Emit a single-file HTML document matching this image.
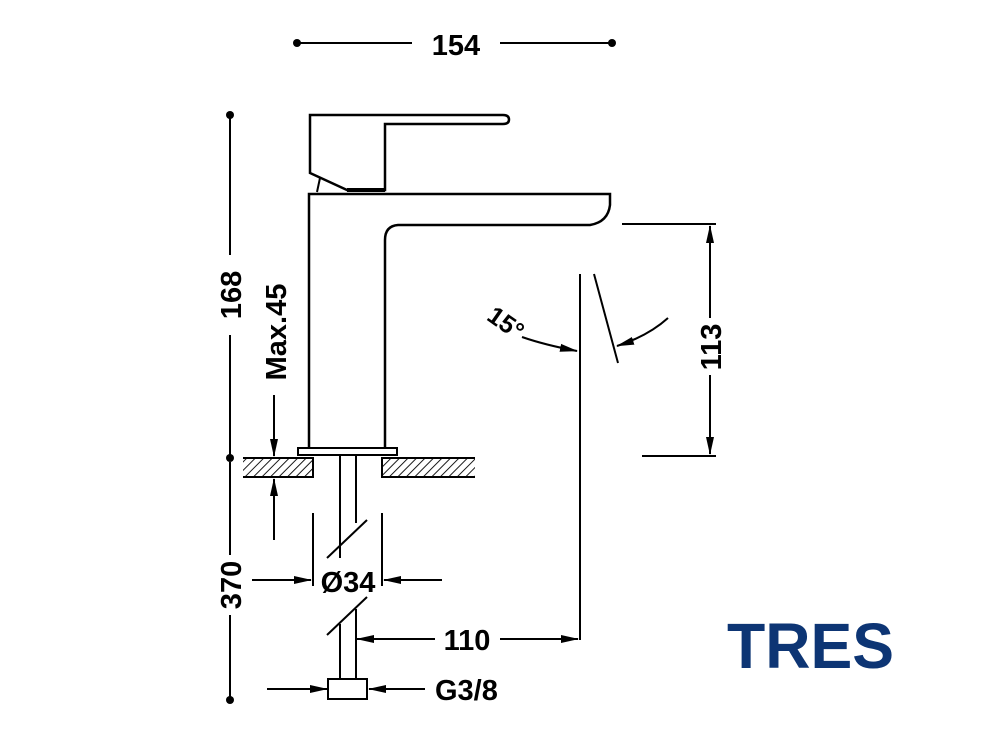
<!DOCTYPE html>
<html><head><style>
body{margin:0;background:#fff}
svg{display:block}
text{font-family:"Liberation Sans",Arial,sans-serif;font-weight:bold;fill:#000}
</style></head><body>
<svg width="990" height="743" viewBox="0 0 990 743" xmlns="http://www.w3.org/2000/svg">
<defs>
<pattern id="h" width="6" height="6" patternUnits="userSpaceOnUse" patternTransform="rotate(45)">
<line x1="0" y1="0" x2="0" y2="6" stroke="#000" stroke-width="1.8"/>
</pattern>
<marker id="a" markerWidth="18" markerHeight="10" refX="17" refY="5" orient="auto" markerUnits="userSpaceOnUse">
<path d="M0,1 L18,5 L0,9 Z" fill="#000"/>
</marker>
</defs>
<g stroke="#000" stroke-width="2" fill="none">
<line x1="300" y1="43" x2="412" y2="43"/>
<line x1="500" y1="43" x2="610" y2="43"/>
<line x1="230" y1="118" x2="230" y2="255"/>
<line x1="230" y1="335" x2="230" y2="456"/>
<line x1="230" y1="462" x2="230" y2="555"/>
<line x1="230" y1="615" x2="230" y2="697"/>
<path d="M310,115 L503,115 Q509,115 509,119.5 Q509,124 503,124 L385,124 L385,190 L347,190 L310,173 Z" stroke-width="2.5"/>
<line x1="347" y1="190" x2="385" y2="190" stroke-width="4"/>
<line x1="317" y1="192" x2="320" y2="178"/>
<path d="M309,448 L309,194 L610,194 L610,205 Q608,222 590,225 L398,225 Q385,226 385,240 L385,448" stroke-width="2.5"/>
<rect x="298" y="448" width="99" height="7" stroke-width="2"/>
<rect x="243" y="458" width="70" height="19" fill="url(#h)" stroke="none"/>
<rect x="382" y="458" width="93" height="19" fill="url(#h)" stroke="none"/>
<path d="M243,458 L313,458 L313,477 L243,477" />
<path d="M475,458 L382,458 L382,477 L475,477"/>
<line x1="340" y1="456" x2="340" y2="558"/>
<line x1="356" y1="456" x2="356" y2="523"/>
<line x1="327" y1="558" x2="367" y2="520"/>
<line x1="327" y1="635" x2="367" y2="597"/>
<line x1="340" y1="624" x2="340" y2="679"/>
<line x1="356" y1="609" x2="356" y2="679"/>
<rect x="328" y="679" width="39" height="20"/>
<line x1="313" y1="513" x2="313" y2="586"/>
<line x1="382" y1="513" x2="382" y2="586"/>
<line x1="252" y1="580" x2="311" y2="580" marker-end="url(#a)"/>
<line x1="442" y1="580" x2="384" y2="580" marker-end="url(#a)"/>
<line x1="435" y1="639" x2="357" y2="639" marker-end="url(#a)"/>
<line x1="500" y1="639" x2="578" y2="639" marker-end="url(#a)"/>
<line x1="267" y1="689" x2="327" y2="689" marker-end="url(#a)"/>
<line x1="425" y1="689" x2="369" y2="689" marker-end="url(#a)"/>
<line x1="274" y1="395" x2="274" y2="456" marker-end="url(#a)"/>
<line x1="274" y1="540" x2="274" y2="479" marker-end="url(#a)"/>
<line x1="580" y1="274" x2="580" y2="640"/>
<line x1="594" y1="274" x2="618" y2="363"/>
<path d="M522,337 Q545,345 577,351" marker-end="url(#a)"/>
<path d="M668,318 Q648,336 617,346" marker-end="url(#a)"/>
<line x1="622" y1="224" x2="716" y2="224"/>
<line x1="642" y1="456" x2="716" y2="456"/>
<line x1="710" y1="318" x2="710" y2="226" marker-end="url(#a)"/>
<line x1="710" y1="375" x2="710" y2="454" marker-end="url(#a)"/>
</g>
<g fill="#000">
<circle cx="297" cy="43" r="4"/><circle cx="612" cy="43" r="4"/>
<circle cx="230" cy="115" r="4"/><circle cx="230" cy="458" r="4"/><circle cx="230" cy="700" r="4"/>
</g>
<text x="456" y="55" font-size="29" text-anchor="middle">154</text>
<text transform="translate(241,295) rotate(-90)" font-size="29" text-anchor="middle">168</text>
<text transform="translate(241,585) rotate(-90)" font-size="29" text-anchor="middle">370</text>
<text transform="translate(286,332) rotate(-90)" font-size="29" text-anchor="middle">Max.45</text>
<text transform="translate(721,347) rotate(-90)" font-size="29" text-anchor="middle">113</text>
<text transform="translate(501,330) rotate(35)" font-size="25" text-anchor="middle">15°</text>
<text x="348" y="592" font-size="29" text-anchor="middle">Ø34</text>
<text x="467" y="650" font-size="29" text-anchor="middle">110</text>
<text x="435" y="700" font-size="29">G3/8</text>
<text x="727" y="668" font-size="64" textLength="167" lengthAdjust="spacingAndGlyphs" style="fill:#0d3574;font-family:'Liberation Sans',sans-serif">TRES</text>
</svg>
</body></html>
